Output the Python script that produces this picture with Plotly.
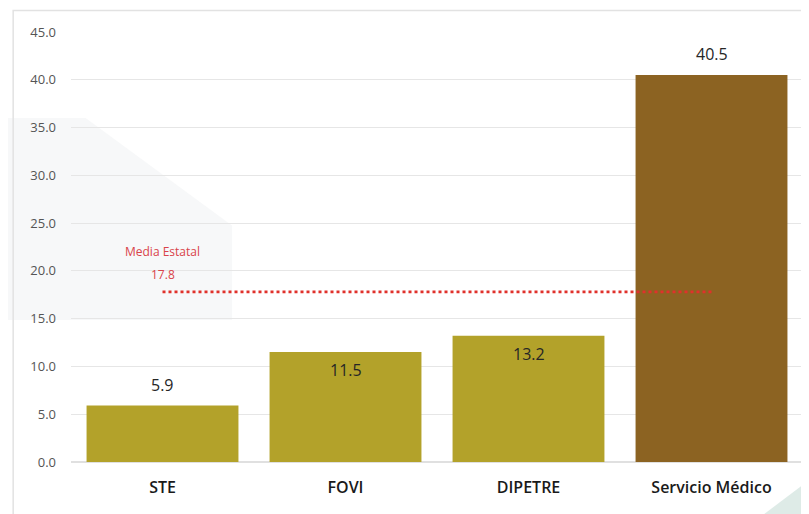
import plotly.graph_objects as go

categories = ["STE", "FOVI", "DIPETRE", "Servicio Médico"]
values = [5.9, 11.5, 13.2, 40.5]
bar_colors = ["#B3A22A", "#B3A22A", "#B3A22A", "#8C6322"]
label_positions = ["outside", "inside", "inside", "outside"]
media_estatal = 17.8
media_label = "Media Estatal"
y_ticks = [0, 5, 10, 15, 20, 25, 30, 35, 40, 45]

fig = go.Figure()

fig.add_trace(go.Bar(
    x=categories, y=values,
    marker=dict(color=bar_colors, line=dict(width=0)),
    showlegend=False,
))

for cat, val, pos in zip(categories, values, label_positions):
    fig.add_annotation(x=cat, y=val, text=f"{val:.1f}", showarrow=False,
                       yanchor="middle", yshift=21 if pos == "outside" else -18,
                       font=dict(family="Open Sans", size=16, color="#262626"))

fig.add_trace(go.Scatter(
    x=categories, y=[media_estatal] * len(categories),
    mode="lines",
    line=dict(color="#E0312B", width=2.6, dash="dot"),
    showlegend=False,
))

fig.add_annotation(x=categories[0], y=media_estatal, text=media_label,
                   showarrow=False, yanchor="bottom", yshift=30,
                   font=dict(family="Open Sans", size=12, color="#D9434A"))
fig.add_annotation(x=categories[0], y=media_estatal, text=f"{media_estatal:.1f}",
                   showarrow=False, yanchor="bottom", yshift=7,
                   font=dict(family="Open Sans", size=12, color="#D9434A"))

# decorative slide background (subtle)
fig.add_shape(type="path", xref="paper", yref="paper", layer="below",
              path="M -0.1 0.80 L 0.02 0.80 L 0.22 0.55 L 0.22 0.33 L -0.1 0.33 Z",
              fillcolor="rgba(228,231,235,0.3)", line=dict(width=0))
fig.add_shape(type="path", xref="paper", yref="paper", layer="below",
              path="M 1.01 -0.13 L 0.94 -0.13 L 1.01 -0.04 Z",
              fillcolor="rgba(200,222,215,0.6)", line=dict(width=0))
fig.add_shape(type="rect", xref="paper", yref="paper", layer="below",
              x0=-0.079, x1=1.03, y0=-0.2, y1=1.05,
              fillcolor="rgba(0,0,0,0)", line=dict(color="#E2E2E2", width=1.5))

fig.update_layout(
    width=801, height=506,
    margin=dict(l=63, r=6, t=24, b=52),
    paper_bgcolor="white", plot_bgcolor="rgba(0,0,0,0)",
    bargap=0.17,
    font=dict(family="Open Sans"),
)
fig.update_yaxes(range=[0, 45], tickvals=y_ticks, tickformat=".1f",
                 showgrid=True, gridcolor="#E6E6E6", gridwidth=1,
                 zeroline=True, zerolinecolor="#E0E0E0",
                 tickfont=dict(family="Open Sans", size=13, color="#555555"),
                 ticks="", ticklabelstandoff=14, showline=False)
fig.update_xaxes(tickfont=dict(family="Open Sans", size=16, color="#1a1a1a", weight=600),
                 ticks="", showline=False, ticklabelstandoff=14)

fig.write_html("out.html")
